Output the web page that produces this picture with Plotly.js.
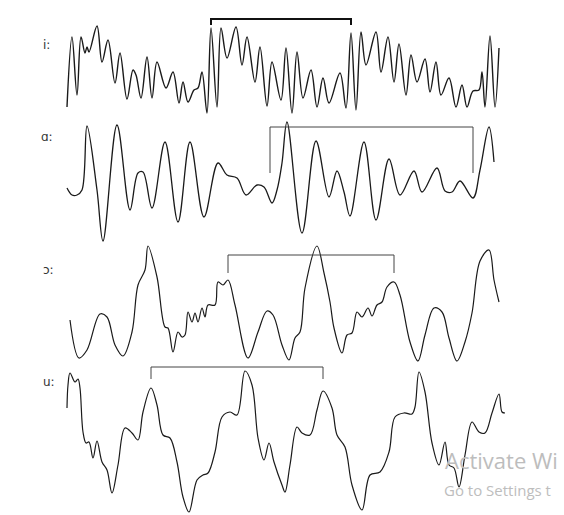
<!DOCTYPE html>
<html>
<head>
<meta charset="utf-8">
<script src="https://cdn.plot.ly/plotly-3.0.1.min.js"></script>
<style>html,body{margin:0;padding:0;background:#fff;}#chart{width:564px;height:515px;}</style>
</head>
<body>
<div id="chart"></div>
<script>
// Waveform traces (pixel-space coordinates)
var labels = ["i:", "ɑ:", "ɔ:", "u:"];
var labelX = [46, 47, 48, 49];
var labelY = [45, 137, 270, 382];

var wave1X = [67,72,77,81,85,87,89,97,102,108,115,120,127,133,136,141,147,152,157,166,173,179,183,188,194,198,202,207,211,217,221,227,236,242,247,255,260,267,272,281,286,292,297,303,311,317,323,329,340,346,351,356,361,366,376,381,388,394,399,406,411,417,425,430,436,441,449,456,462,467,473,479,482,485,490,495,499];
var wave1Y = [107,37,95,37,53,47,52,26,62,40,83,53,99,70,75,98,57,98,62,88,72,103,82,102,90,88,72,113,28,107,28,58,27,65,37,82,47,106,62,100,48,113,52,98,70,107,78,103,73,108,33,110,32,65,32,72,37,82,44,95,55,82,59,92,62,95,78,107,85,107,91,90,72,107,36,107,48];

var wave2X = [67,72,77,82,87,97,103,117,130,138,143,152,165,178,190,204,218,227,237,246,257,264,272,277,282,287,302,316,329,337,344,350,364,376,389,400,414,422,437,445,452,460,473,480,489,494];
var wave2Y = [188,195,195,190,126,190,241,125,210,173,172,208,142,222,142,217,163,175,178,195,185,187,203,190,163,122,233,141,197,171,192,216,142,220,159,195,171,192,168,191,192,181,198,170,127,162];

var wave3X = [70,79,87,100,107,115,123,132,138,145,148,157,165,168,173,178,182,185,188,192,195,198,202,205,208,215,218,223,228,235,248,258,267,273,282,289,295,300,305,317,324,330,334,342,347,352,357,362,368,372,377,382,387,394,400,410,418,425,434,442,449,457,465,472,480,489,494,499];
var wave3Y = [320,358,350,314,317,345,356,332,285,270,246,277,327,328,352,332,337,335,312,322,313,322,308,317,305,305,282,285,280,305,358,332,311,315,345,360,338,332,288,246,273,302,328,353,335,333,312,317,308,316,305,302,287,282,295,342,361,335,308,312,338,361,342,313,261,250,280,302];

var wave4X = [67,68,70,75,78,80,83,86,89,93,97,102,107,112,118,125,132,138,143,151,157,163,170,177,183,189,197,203,208,215,222,230,237,245,252,258,264,269,274,282,285,290,297,302,310,317,323,332,337,345,352,362,370,380,389,395,404,412,415,419,425,432,439,445,449,454,459,465,472,479,485,492,499,502,505];
var wave4Y = [408,385,373,382,379,388,432,443,442,458,441,462,470,493,465,428,433,440,412,388,405,435,438,462,497,512,480,475,473,452,417,412,415,371,385,438,460,443,462,485,492,465,427,433,435,410,391,408,435,447,485,510,475,472,452,417,413,414,407,372,392,443,465,442,465,468,487,455,422,432,433,413,394,412,413];

// Period brackets
var bracket1X = [211,211,351,351], bracket1Y = [25,19,19,25];
var bracket2X = [270,270,473,473], bracket2Y = [173,127,127,173];
var bracket3X = [228,228,394,394], bracket3Y = [273,255,255,273];
var bracket4X = [151,151,323,323], bracket4Y = [379,367,367,379];

var watermark = ["Activate Wi", "Go to Settings t"];

function wave(x, y, w) {
  return {x: x, y: y, type: 'scatter', mode: 'lines',
    line: {color: '#1a1a1a', width: w, shape: 'spline', smoothing: 1.0},
    hoverinfo: 'skip', showlegend: false};
}
function bracket(x, y, w, c) {
  return {x: x, y: y, type: 'scatter', mode: 'lines',
    line: {color: c, width: w}, hoverinfo: 'skip', showlegend: false};
}

var data = [
  wave(wave1X, wave1Y, 1.4),
  wave(wave2X, wave2Y, 1.3),
  wave(wave3X, wave3Y, 1.2),
  wave(wave4X, wave4Y, 1.2),
  bracket(bracket1X, bracket1Y, 2, '#111'),
  bracket(bracket2X, bracket2Y, 1, '#444'),
  bracket(bracket3X, bracket3Y, 1, '#444'),
  bracket(bracket4X, bracket4Y, 1, '#444')
];

var annotations = labels.map(function (t, i) {
  return {x: labelX[i], y: labelY[i], xref: 'x', yref: 'y', text: t, showarrow: false,
    xanchor: 'center', yanchor: 'middle',
    font: {family: 'DejaVu Sans', size: 12, color: '#333'}};
});
annotations.push({x: 443, y: 460, xref: 'x', yref: 'y', text: watermark[0], showarrow: false,
  xanchor: 'left', yanchor: 'middle', font: {family: 'Open Sans', size: 22, color: '#bdbdbd'}});
annotations.push({x: 442, y: 490, xref: 'x', yref: 'y', text: watermark[1], showarrow: false,
  xanchor: 'left', yanchor: 'middle', font: {family: 'Open Sans', size: 15, color: '#bdbdbd'}});

var layout = {
  width: 564, height: 515,
  margin: {l: 0, r: 0, t: 0, b: 0, pad: 0},
  paper_bgcolor: '#ffffff', plot_bgcolor: '#ffffff',
  xaxis: {range: [0, 564], visible: false, fixedrange: true},
  yaxis: {range: [515, 0], visible: false, fixedrange: true},
  annotations: annotations,
  showlegend: false
};

Plotly.newPlot('chart', data, layout, {staticPlot: true, displayModeBar: false});
</script>
</body>
</html>
